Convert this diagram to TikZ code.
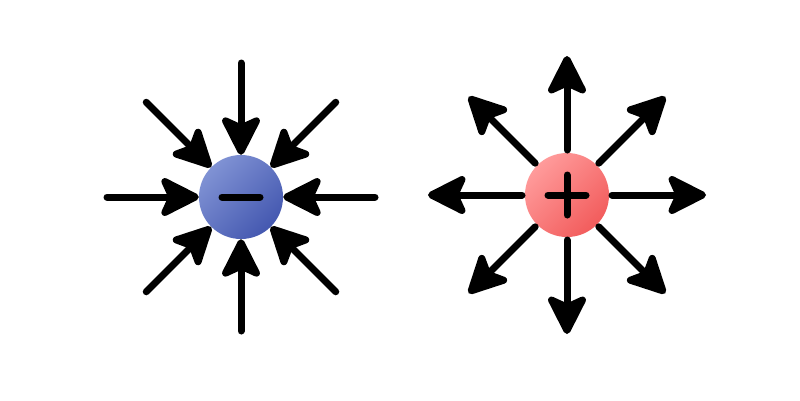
\documentclass[tikz,border=0pt]{standalone}
\usetikzlibrary{arrows.meta,calc}
\definecolor{bluelt}{RGB}{128,146,212}
\definecolor{bluedk}{RGB}{68,88,176}
\definecolor{redlt}{RGB}{255,155,155}
\definecolor{reddk}{RGB}{242,92,92}
\begin{document}
\begin{tikzpicture}[x=1pt,y=-1pt,
  field/.style={line width=7pt, line cap=round, -{Stealth[length=45pt,width=45pt,inset=10pt,round]}},
  sign/.style={line width=7pt, line cap=round},
  charge/.style={circle, minimum size=84pt, inner sep=0pt},
  negfill/.style={top color=bluelt, bottom color=bluedk, shading angle=45},
  posfill/.style={top color=redlt, bottom color=reddk, shading angle=45}]
\useasboundingbox (0,0) rectangle (800,400);
\fill[white] (0,0) rectangle (800,400);
% negative charge
\node[charge, negfill] (neg) at (241,197) {};
\draw[sign] ($(neg)+(-19,0)$) -- ($(neg)+(19,0)$);
\foreach \a in {0,45,...,315}{
  \coordinate (n\a) at ($(neg)+(\a:134)$);
  \draw[field] (n\a) -- (neg);
}
% positive charge
\node[charge, posfill, outer sep=3pt] (pos) at (567,195) {};
\draw[sign] ($(pos)+(-19,0)$) -- ($(pos)+(19,0)$);
\draw[sign] ($(pos)+(0,-20)$) -- ($(pos)+(0,20)$);
\foreach \a in {0,45,...,315}{
  \coordinate (p\a) at ($(pos)+(\a:139)$);
  \draw[field] (pos) -- (p\a);
}
\end{tikzpicture}
\end{document}
